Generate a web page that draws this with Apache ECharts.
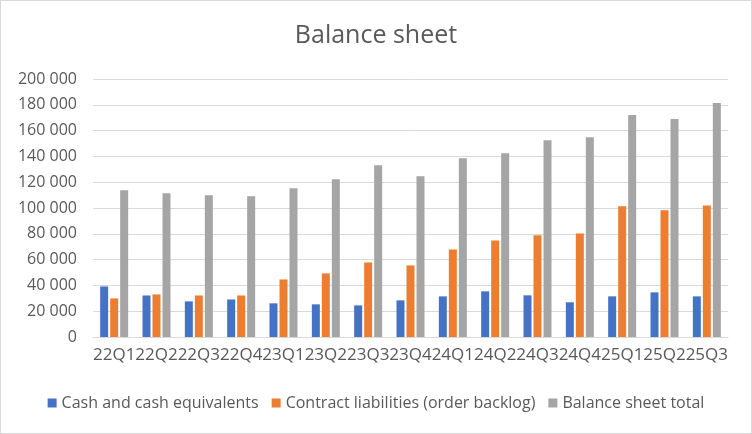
<!DOCTYPE html>
<html><head><meta charset="utf-8">
<script src="https://cdn.jsdelivr.net/npm/echarts@6/dist/echarts.min.js"></script>
<style>html,body{margin:0;padding:0;background:#fff}#c{width:750px;height:432px;border:1px solid #d9d9d9}</style>
</head><body><div id="c"></div>
<script>
const categories = ['22Q1','22Q2','22Q3','22Q4','23Q1','23Q2','23Q3','23Q4','24Q1','24Q2','24Q3','24Q4','25Q1','25Q2','25Q3'];
const cash = [39200,32200,27600,29100,26100,25300,24500,28400,31500,35400,32300,26900,31500,34600,31500];
const contract = [29900,33000,32200,32200,44600,49300,57800,55500,67900,74900,78800,80300,101300,98200,102000];
const total = [113800,111400,109900,109100,115300,122300,133100,124600,138600,142500,152600,154900,172000,168900,181400];
const ff = "'Open Sans',sans-serif";
const chart = echarts.init(document.getElementById('c'));
chart.setOption({
  animation:false,
  title:{text:'Balance sheet',left:'center',top:17,textStyle:{fontFamily:ff,fontSize:25,fontWeight:'normal',color:'#595959'}},
  legend:{bottom:17,left:'center',itemWidth:9,itemHeight:9,itemGap:13,icon:'rect',
    textStyle:{fontFamily:ff,fontSize:16,color:'#595959'}},
  grid:{left:92,right:23,top:78,bottom:96,containLabel:false},
  xAxis:{type:'category',data:categories,
    axisLine:{lineStyle:{color:'#d9d9d9'}},axisTick:{show:false},
    axisLabel:{interval:0,fontFamily:ff,fontSize:17,color:'#595959',margin:10}},
  yAxis:{type:'value',min:0,max:200000,interval:20000,
    splitLine:{lineStyle:{color:'#d9d9d9'}},axisLine:{show:false},axisTick:{show:false},
    axisLabel:{fontFamily:ff,fontSize:16,color:'#595959',margin:16,
      formatter:v=>String(v).replace(/\B(?=(\d{3})+(?!\d))/g,' ')}},
  series:[
    {name:'Cash and cash equivalents',type:'bar',data:cash,itemStyle:{color:'#4472C4'},barWidth:8,barGap:'25%'},
    {name:'Contract liabilities (order backlog)',type:'bar',data:contract,itemStyle:{color:'#ED7D31'},barWidth:8,barGap:'25%'},
    {name:'Balance sheet total',type:'bar',data:total,itemStyle:{color:'#A5A5A5'},barWidth:8,barGap:'25%'}
  ]
});
</script></body></html>
